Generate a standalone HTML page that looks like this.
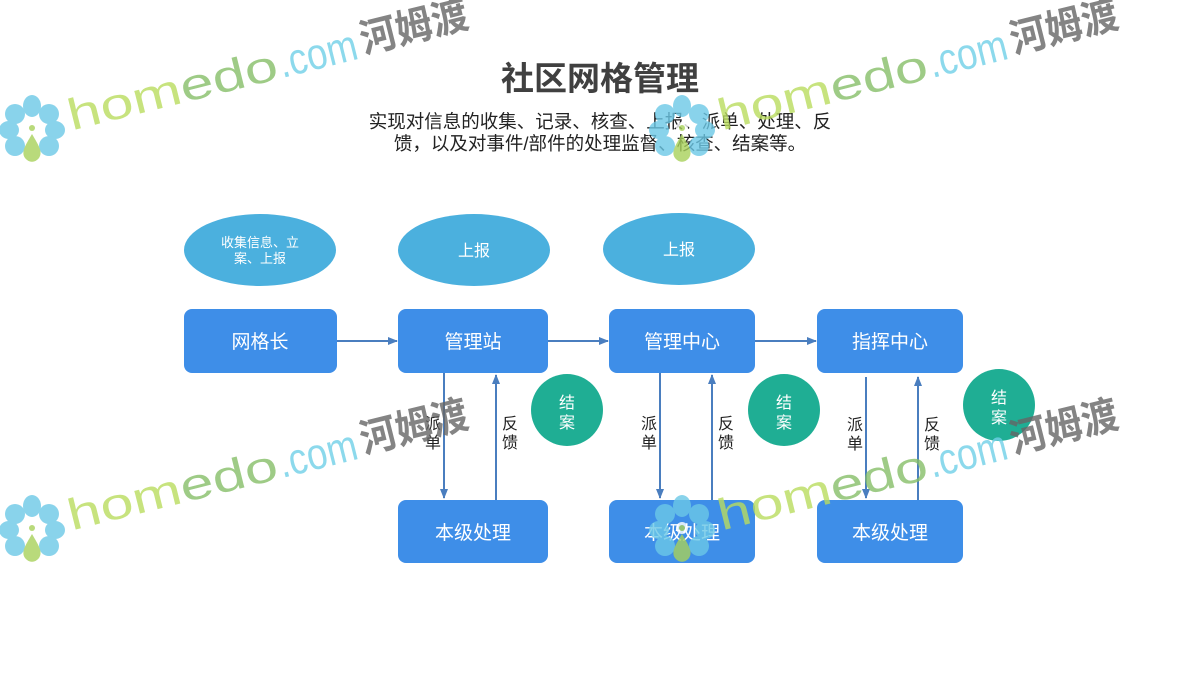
<!DOCTYPE html>
<html><head><meta charset="utf-8"><style>
html,body{margin:0;padding:0;background:#fff;width:1200px;height:675px;overflow:hidden}
svg{display:block}
</style></head><body>
<svg width="1200" height="675" viewBox="0 0 1200 675" xmlns="http://www.w3.org/2000/svg" font-family="'Liberation Sans','Noto Sans CJK SC',sans-serif">
<defs>
<marker id="ar" markerWidth="10" markerHeight="10" refX="9" refY="5" orient="auto" markerUnits="userSpaceOnUse">
<path d="M0,1 L10,5 L0,9 Z" fill="#4a7ebf"/></marker>
<g id="wm">
<g fill="#6cc8e6">
<ellipse cx="0" cy="-22" rx="9" ry="11"/><ellipse cx="17" cy="-14" rx="10" ry="10"/><ellipse cx="23" cy="2" rx="10" ry="9"/><ellipse cx="17" cy="18" rx="10" ry="10"/>
<ellipse cx="-17" cy="18" rx="10" ry="10"/><ellipse cx="-23" cy="2" rx="10" ry="9"/><ellipse cx="-17" cy="-14" rx="10" ry="10"/>
</g>
<circle cx="0" cy="0" r="6" fill="#fff"/>
<circle cx="0" cy="0" r="3" fill="#a8d15a"/>
<path d="M0,6 C7,18 11,24 7,30 C3,35 -3,35 -7,30 C-11,24 -7,18 0,6Z" fill="#a8d15a"/>
<g transform="rotate(-14)">
<text x="38" y="12" font-size="44" textLength="215" lengthAdjust="spacingAndGlyphs"><tspan fill="#b9dc5e">hom</tspan><tspan fill="#86bf68">edo</tspan></text>
<text x="255" y="12" font-size="44" fill="#70d0e8" textLength="80" lengthAdjust="spacingAndGlyphs">.com</text>
<text x="340" y="8" font-size="40" font-weight="bold" fill="#666" textLength="110" lengthAdjust="spacingAndGlyphs">河姆渡</text>
</g>
</g>
</defs>

<text x="600" y="90" text-anchor="middle" font-size="33" font-weight="bold" fill="#404040">社区网格管理</text>
<text x="600" y="128" text-anchor="middle" font-size="18.5" fill="#222">实现对信息的收集、记录、核查、上报、派单、处理、反</text>
<text x="600" y="150" text-anchor="middle" font-size="18.5" fill="#222">馈，以及对事件/部件的处理监督、核查、结案等。</text>

<g fill="#4bb0de">
<ellipse cx="260" cy="250" rx="76" ry="36"/>
<ellipse cx="474" cy="250" rx="76" ry="36"/>
<ellipse cx="679" cy="249" rx="76" ry="36"/>
</g>
<g fill="#fff" text-anchor="middle">
<text x="260" y="247" font-size="13">收集信息、立</text>
<text x="260" y="263" font-size="13">案、上报</text>
<text x="474" y="256" font-size="16">上报</text>
<text x="679" y="255" font-size="16">上报</text>
</g>

<g fill="#3e8ee8">
<rect x="184" y="309" width="153" height="64" rx="8"/>
<rect x="398" y="309" width="150" height="64" rx="8"/>
<rect x="609" y="309" width="146" height="64" rx="8"/>
<rect x="817" y="309" width="146" height="64" rx="8"/>
<rect x="398" y="500" width="150" height="63" rx="8"/>
<rect x="609" y="500" width="146" height="63" rx="8"/>
<rect x="817" y="500" width="146" height="63" rx="8"/>
</g>
<g fill="#fff" text-anchor="middle" font-size="19">
<text x="260" y="348">网格长</text>
<text x="473" y="348">管理站</text>
<text x="682" y="348">管理中心</text>
<text x="890" y="348">指挥中心</text>
<text x="473" y="539">本级处理</text>
<text x="682" y="539">本级处理</text>
<text x="890" y="539">本级处理</text>
</g>

<g stroke="#4a7ebf" stroke-width="2" marker-end="url(#ar)">
<line x1="337" y1="341" x2="397" y2="341"/>
<line x1="548" y1="341" x2="608" y2="341"/>
<line x1="755" y1="341" x2="816" y2="341"/>
<line x1="444" y1="373" x2="444" y2="498"/>
<line x1="496" y1="500" x2="496" y2="375"/>
<line x1="660" y1="373" x2="660" y2="498"/>
<line x1="712" y1="500" x2="712" y2="375"/>
<line x1="866" y1="377" x2="866" y2="498"/>
<line x1="918" y1="500" x2="918" y2="377"/>
</g>
<g font-size="16" fill="#222" text-anchor="middle">
<text x="433" y="429">派</text><text x="433" y="448">单</text>
<text x="510" y="429">反</text><text x="510" y="448">馈</text>
<text x="649" y="429">派</text><text x="649" y="448">单</text>
<text x="726" y="429">反</text><text x="726" y="448">馈</text>
<text x="855" y="430">派</text><text x="855" y="449">单</text>
<text x="932" y="430">反</text><text x="932" y="449">馈</text>
</g>

<g fill="#1fae94">
<circle cx="567" cy="410" r="36"/>
<circle cx="784" cy="410" r="36"/>
<circle cx="999" cy="405" r="36"/>
</g>
<g fill="#fff" font-size="16" text-anchor="middle">
<text x="567" y="408">结</text><text x="567" y="428">案</text>
<text x="784" y="408">结</text><text x="784" y="428">案</text>
<text x="999" y="403">结</text><text x="999" y="423">案</text>
</g>

<g opacity="0.8">
<use href="#wm" transform="translate(32,128)"/>
<use href="#wm" transform="translate(682,128)"/>
<use href="#wm" transform="translate(32,528)"/>
<use href="#wm" transform="translate(682,528)"/>
</g>
</svg>
</body></html>
